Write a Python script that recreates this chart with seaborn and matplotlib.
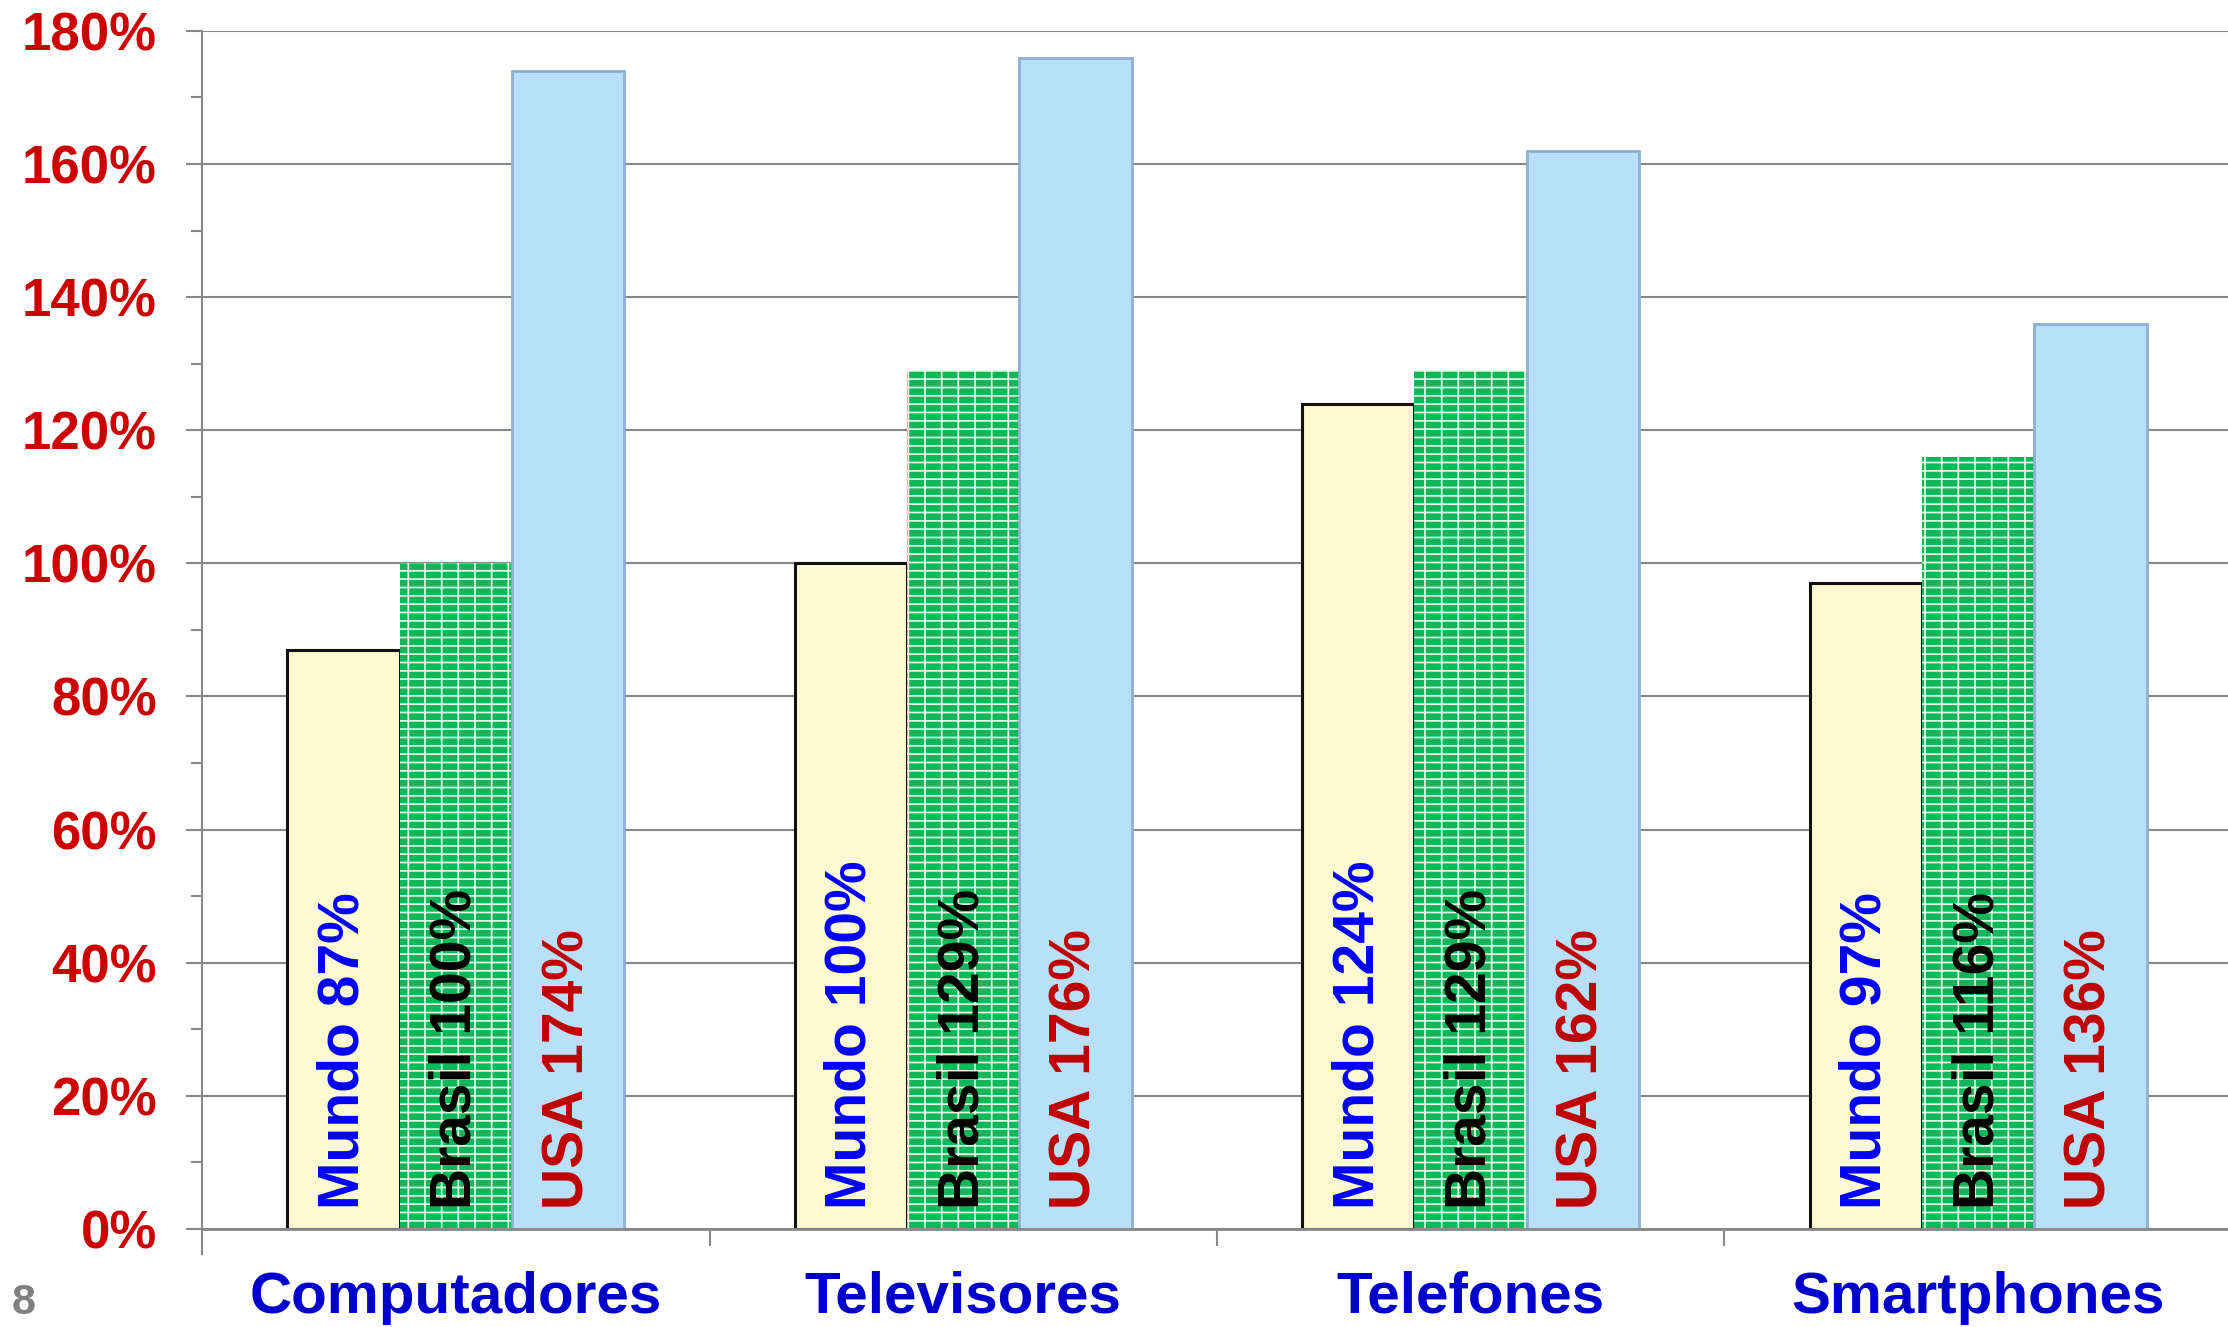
import pandas as pd
import matplotlib
matplotlib.use("Agg")
import matplotlib.pyplot as plt
import seaborn as sns

# chart values
categorias = ["Computadores", "Televisores", "Telefones", "Smartphones"]
series = ["Mundo", "Brasil", "USA"]
mundo = [87, 100, 124, 97]
brasil = [100, 129, 129, 116]
usa = [174, 176, 162, 136]
yticks = [0, 20, 40, 60, 80, 100, 120, 140, 160, 180]
ytick_labels = [f"{v}%" for v in yticks]

df = pd.DataFrame({
    "categoria": categorias * 3,
    "serie": [s for s in series for _ in categorias],
    "valor": mundo + brasil + usa,
})

sns.set_style("white")
plt.rcParams["font.family"] = ["Liberation Sans", "DejaVu Sans"]
plt.rcParams["hatch.linewidth"] = 1.2

fill = {"Mundo": "#FCFAD0", "Brasil": "#0DB85A", "USA": "#B8E0FA"}
text_col = {"Mundo": "#0000FF", "Brasil": "#000000", "USA": "#C00000"}

fig = plt.figure(figsize=(22.28, 13.27), dpi=100)
ax = fig.add_axes([0.0907, 0.0739, 0.911, 0.9028])

sns.barplot(data=df, x="categoria", y="valor", hue="serie", order=categorias,
            hue_order=series, palette=fill, width=0.664, gap=0,
            saturation=1, legend=False, ax=ax, zorder=3)

# style each series
for serie, cont in zip(series, ax.containers):
    for bar in cont:
        if serie == "Mundo":
            bar.set_edgecolor("#111111")
            bar.set_linewidth(2.2)
        elif serie == "Brasil":
            bar.set_edgecolor("#E8FFE8")
            bar.set_hatch("--|")
            bar.set_linewidth(0)
        else:
            bar.set_edgecolor("#8FB0CF")
            bar.set_linewidth(2)

# labels inside bars
valores = {"Mundo": mundo, "Brasil": brasil, "USA": usa}
for serie, cont in zip(series, ax.containers):
    for bar, v in zip(cont, valores[serie]):
        ax.text(bar.get_x() + bar.get_width() / 2, 3, f"{serie} {v}%",
                rotation=90, ha="center", va="bottom", fontsize=41,
                fontweight="bold", color=text_col[serie], zorder=5)

ax.set_xlim(-0.5, 3.5)
ax.set_ylim(0, 180)
ax.set_yticks(yticks)
ax.set_yticklabels(ytick_labels)
ax.set_yticks(range(10, 180, 20), minor=True)
ax.yaxis.grid(True, color="#888888", linewidth=1.5, zorder=0)
ax.set_axisbelow(True)

ax.tick_params(axis="y", which="major", left=True, length=11.5, width=1.5,
               color="#888888", pad=21, labelsize=38, labelcolor="#CC0000")
ax.tick_params(axis="y", which="minor", left=True, length=8, width=1.5,
               color="#888888")
for lab in ax.get_yticklabels():
    lab.set_fontweight("bold")

ax.set_xticks(range(4))
ax.set_xticklabels(categorias)
ax.set_xticks([0.5, 1.5, 2.5], minor=True)
ax.tick_params(axis="x", which="major", bottom=False, length=0, pad=30,
               labelsize=42, labelcolor="#0000CC")
ax.tick_params(axis="x", which="minor", bottom=True, length=12.5, width=1.5,
               color="#888888")
for lab in ax.get_xticklabels():
    lab.set_fontweight("bold")
ax.set_xlabel("")
ax.set_ylabel("")

sns.despine(ax=ax, top=True, right=True)
ax.spines["left"].set_color("#888888")
ax.spines["left"].set_linewidth(1.5)
ax.spines["left"].set_bounds(-3.8, 180)
ax.spines["bottom"].set_color("#888888")
ax.spines["bottom"].set_linewidth(2)
ax.spines["bottom"].set_zorder(4)

# slide number
fig.text(0.005, 0.01, "8", fontsize=31, fontweight="bold", color="#808080")

fig.savefig("out.png", dpi=100)
